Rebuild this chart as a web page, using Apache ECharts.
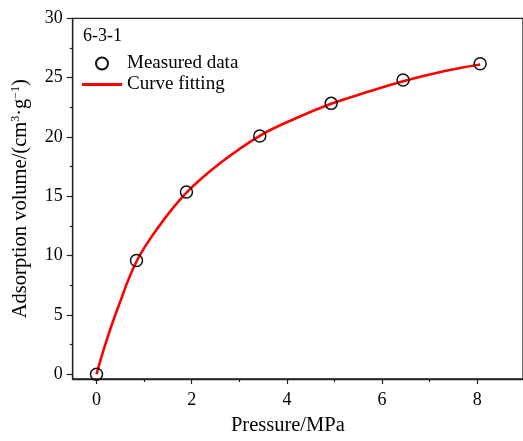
<!DOCTYPE html>
<html>
<head>
<meta charset="utf-8">
<script src="https://cdn.jsdelivr.net/npm/echarts@6/dist/echarts.min.js"></script>
<style>
  html, body { margin: 0; padding: 0; background: #fff; }
  #chartDom { width: 523px; height: 441px; }
</style>
</head>
<body>
<div id="chartDom"></div>
<script>
// measured points (Pressure MPa, adsorption cm3/g)
const measuredP = [0, 0.84, 1.89, 3.43, 4.93, 6.44, 8.06]
const measuredV = [0, 9.58, 15.36, 20.08, 22.83, 24.8, 26.17]
// fitted curve
const curveP = [0, 0.2, 0.45, 0.84, 1.3, 1.89, 2.6, 3.43, 4.2, 4.93, 5.7, 6.44, 7.25, 8.06]
const curveV = [0, 2.7, 5.6, 9.5, 12.4, 15.3, 17.8, 20.1, 21.6, 22.8, 23.8, 24.7, 25.5, 26.1]
const xTicks = [0, 2, 4, 6, 8]
const xMinor = [1, 3, 5, 7]
const yTicks = [0, 5, 10, 15, 20, 25, 30]
const yMinor = [2.5, 7.5, 12.5, 17.5, 22.5, 27.5]

const chart = echarts.init(document.getElementById('chartDom'))
const font = '"Liberation Serif", "Times New Roman", serif'
const axisColor = '#222'

const option = {
  animation: false,
  textStyle: { fontFamily: font, color: '#000' },
  title: {
    text: '6-3-1',
    left: 78,
    top: 22,
    textStyle: { fontFamily: font, fontSize: 18, fontWeight: 'normal', color: '#000' }
  },
  legend: {
    orient: 'vertical',
    left: 77,
    top: 49,
    itemWidth: 40,
    itemHeight: 12,
    itemGap: 2,
    textStyle: { fontFamily: font, fontSize: 19, color: '#000' },
    data: [
      { name: 'Measured data' },
      { name: 'Curve fitting', icon: 'path://M0 0H40V3H0Z' }
    ]
  },
  grid: {
    left: 72.7,
    top: 18.3,
    right: -3,
    bottom: 58,
    show: true,
    borderColor: axisColor,
    borderWidth: 1.3
  },
  xAxis: [
    {
      type: 'value',
      min: -0.5,
      max: 8.96,
      position: 'bottom',
      name: 'Pressure/MPa',
      nameLocation: 'middle',
      nameGap: 36,
      nameTextStyle: { fontFamily: font, fontSize: 20.5, color: '#000', padding: [0, 20, 0, 0] },
      axisLine: { show: true, onZero: false, lineStyle: { color: axisColor, width: 1.3 } },
      axisTick: { show: true, customValues: xTicks, length: 5, lineStyle: { color: axisColor, width: 1.2 } },
      axisLabel: { customValues: xTicks, margin: 12, fontFamily: font, fontSize: 18, color: '#000' },
      splitLine: { show: false }
    },
    {
      type: 'value',
      min: -0.5,
      max: 8.96,
      position: 'bottom',
      axisLine: { show: false, onZero: false },
      axisTick: { show: true, customValues: xMinor, length: 3, lineStyle: { color: axisColor, width: 1.2 } },
      axisLabel: { show: false },
      splitLine: { show: false }
    }
  ],
  yAxis: [
    {
      type: 'value',
      min: -0.4,
      max: 30,
      position: 'left',
      name: 'Adsorption volume/(cm{sup|3}·g{sup|−1})',
      nameLocation: 'middle',
      nameGap: 42,
      nameTextStyle: {
        fontFamily: font, fontSize: 20.5, color: '#000',
        rich: {
          sup: { fontFamily: font, fontSize: 12, color: '#000', verticalAlign: 'top', lineHeight: 12 }
        }
      },
      axisLine: { show: true, onZero: false, lineStyle: { color: axisColor, width: 1.3 } },
      axisTick: { show: true, customValues: yTicks, length: 6, lineStyle: { color: axisColor, width: 1.2 } },
      axisLabel: { customValues: yTicks, margin: 10, fontFamily: font, fontSize: 18, color: '#000' },
      splitLine: { show: false }
    },
    {
      type: 'value',
      min: -0.4,
      max: 30,
      position: 'left',
      axisLine: { show: false, onZero: false },
      axisTick: { show: true, customValues: yMinor, length: 3, lineStyle: { color: axisColor, width: 1.2 } },
      axisLabel: { show: false },
      splitLine: { show: false }
    }
  ],
  series: [
    {
      name: 'Curve fitting',
      type: 'line',
      smooth: 0.4,
      showSymbol: false,
      symbol: 'none',
      lineStyle: { color: '#ff0000', width: 2.6 },
      itemStyle: { color: '#ff0000' },
      data: curveP.map((p, i) => [p, curveV[i]]),
      z: 2
    },
    {
      name: 'Measured data',
      type: 'scatter',
      symbol: 'circle',
      symbolSize: 12,
      itemStyle: { color: 'rgba(0,0,0,0)', borderColor: '#111', borderWidth: 1.5, opacity: 1 },
      data: measuredP.map((p, i) => [p, measuredV[i]]),
      z: 3
    }
  ]
}
chart.setOption(option)
</script>
</body>
</html>
